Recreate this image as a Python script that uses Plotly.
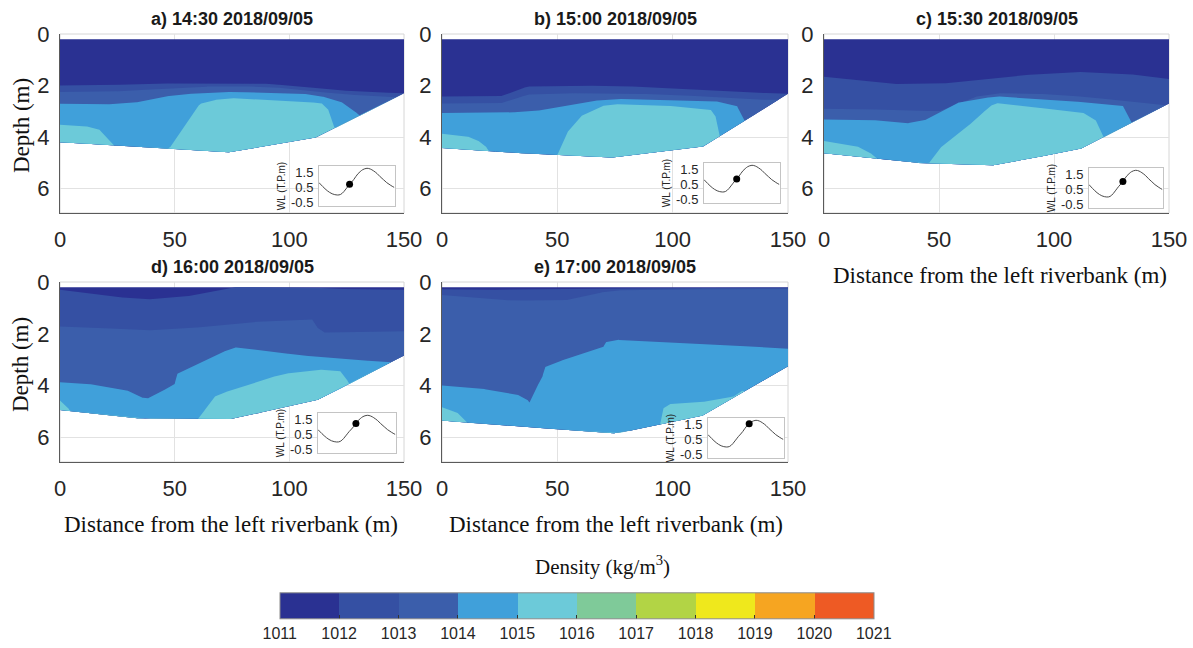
import numpy as np
import plotly.graph_objects as go

FIG_W, FIG_H = 1193, 648

# ---------------- data ----------------
density_levels = [1011, 1012, 1013, 1014, 1015, 1016, 1017, 1018, 1019, 1020, 1021]
density_colors = ["#2a3192", "#3550a3", "#3b5eab", "#40a0da", "#6ccad9",
                  "#7fca99", "#b2d445", "#efe81c", "#f6a521", "#ee5a24"]

panel_titles = ["a) 14:30 2018/09/05", "b) 15:00 2018/09/05", "c) 15:30 2018/09/05",
                "d) 16:00 2018/09/05", "e) 17:00 2018/09/05"]

water_surface_depth = 0.2  # m

x_ticks = [0, 50, 100, 150]
depth_ticks = [0, 2, 4, 6]

# ---- panel a (14:30) ----
a_bed_x = [0, 75, 112.5, 150]
a_bed_z = [4.2, 4.6, 4.0, 2.3]
a_iso1012_x = [0, 17, 32, 46, 61, 75, 90, 104, 119, 134, 150]
a_iso1012_z = [2.0, 2.0, 1.95, 1.92, 1.9, 1.9, 1.93, 2.03, 2.17, 2.25, 2.3]
a_iso1013_x = [0, 17, 32, 46, 61, 75, 90, 104, 119, 134, 150]
a_iso1013_z = [2.25, 2.25, 2.2, 2.12, 2.05, 2.02, 2.05, 2.15, 2.3, 2.4, 2.5]
a_iso1014_x = [0, 17, 32, 39, 46, 54, 61, 75, 90, 104, 113, 122, 128, 135, 150]
a_iso1014_z = [2.71, 2.75, 2.68, 2.55, 2.42, 2.34, 2.3, 2.25, 2.27, 2.3, 2.4, 2.6, 2.95, 3.6, 4.0]
a_iso1015_x = [0, 10, 17, 21, 24, 30, 40, 46, 48, 50, 54, 58, 61, 66, 74, 90, 104, 114, 117, 119, 122, 150]
a_iso1015_z = [3.52, 3.56, 3.7, 4.1, 4.4, 4.8, 4.8, 4.5, 4.4, 4.13, 3.6, 3.06, 2.72, 2.58, 2.49, 2.55, 2.62, 2.68, 2.94, 3.52, 4.0, 4.5]

# ---- panel b (15:00) ----
b_bed_x = [0, 50, 75, 113.5, 150]
b_bed_z = [4.43, 4.72, 4.8, 4.36, 2.32]
b_iso1012_x = [0, 25, 31, 37, 50, 75, 98, 119, 150]
b_iso1012_z = [2.43, 2.43, 2.25, 2.04, 2.01, 2.01, 2.1, 2.19, 2.34]
b_iso1013_x = [0, 25, 31, 37, 50, 75, 98, 119, 150]
b_iso1013_z = [2.7, 2.7, 2.55, 2.35, 2.3, 2.3, 2.35, 2.45, 2.6]
b_iso1014_x = [0, 25, 40, 50, 63, 74.5, 98, 119, 128, 130, 135, 150]
b_iso1014_z = [3.07, 3.07, 3.0, 2.84, 2.62, 2.52, 2.55, 2.62, 2.81, 3.2, 3.9, 4.5]
b_iso1015_x = [0, 10, 15, 19, 22, 35, 49, 51, 54, 60, 68.7, 74.5, 98, 116.5, 118.6, 120, 122, 150]
b_iso1015_z = [3.87, 3.95, 4.1, 4.35, 4.9, 5.0, 4.9, 4.5, 3.85, 3.2, 2.81, 2.72, 2.79, 2.94, 3.2, 3.85, 4.4, 5.0]

# ---- panel c (15:30) ----
c_bed_x = [0, 41.6, 75, 112.6, 150]
c_bed_z = [4.63, 5.01, 5.1, 4.43, 2.7]
c_iso1012_x = [0, 14, 28.5, 50, 65, 86.5, 108, 130, 150]
c_iso1012_z = [1.66, 1.79, 1.94, 1.94, 1.79, 1.6, 1.47, 1.53, 1.75]
c_iso1013_x = [0, 14, 28.5, 50, 65, 75, 86.5, 101, 115, 130, 150]
c_iso1013_z = [2.9, 2.9, 2.95, 3.0, 2.45, 2.3, 2.3, 2.35, 2.45, 2.6, 2.8]
c_iso1014_x = [0, 21, 36, 43, 50, 57.5, 65, 75, 86.5, 101, 115.5, 130, 133, 136, 150]
c_iso1014_z = [3.32, 3.34, 3.47, 3.38, 3.06, 2.68, 2.55, 2.42, 2.49, 2.55, 2.68, 2.8, 3.32, 4.0, 4.5]
c_iso1015_x = [0, 14, 20, 24, 30, 44, 45, 50, 57.5, 66, 72, 75, 86.5, 101, 112.6, 118, 120.6, 123, 150]
c_iso1015_z = [4.15, 4.34, 4.6, 4.95, 5.3, 5.3, 5.1, 4.46, 3.95, 3.32, 2.81, 2.68, 2.81, 2.93, 3.06, 3.32, 3.83, 4.4, 5.0]

# ---- panel d (16:00) ----
d_bed_x = [0, 37, 75, 113.5, 150]
d_bed_z = [4.94, 5.29, 5.29, 4.52, 2.84]
d_iso1012_x = [0, 18, 37, 54, 68, 76, 110, 120, 150]
d_iso1012_z = [0.3, 0.52, 0.68, 0.58, 0.32, 0.2, 0.2, 0.27, 0.3]
d_iso1013_x = [0, 18, 37, 54, 68.6, 83, 105, 110, 112, 115, 120, 150]
d_iso1013_z = [1.72, 1.77, 1.87, 1.81, 1.68, 1.55, 1.45, 1.45, 1.75, 1.95, 1.95, 1.9]
d_iso1014_x = [0, 10.7, 29.5, 35, 38, 42.5, 50, 51, 58.5, 65.7, 76, 90, 105, 119, 142.5, 150]
d_iso1014_z = [3.87, 3.91, 4.19, 4.45, 4.5, 4.32, 3.94, 3.55, 3.23, 2.9, 2.52, 2.65, 2.84, 2.93, 3.1, 3.1]
d_iso1015_x = [0, 3.5, 6, 40, 58, 61, 64, 67, 70, 78.7, 87.4, 97.5, 112, 122, 125, 127, 150]
d_iso1015_z = [4.58, 4.84, 5.3, 5.5, 5.5, 5.2, 4.84, 4.45, 4.32, 4.06, 3.8, 3.55, 3.38, 3.42, 3.74, 4.1, 4.5]

# ---- panel e (17:00) ----
e_bed_x = [0, 9.4, 75.5, 113, 150]
e_bed_z = [5.35, 5.42, 5.85, 5.16, 3.25]
e_iso1012_x = [0, 30, 70, 150]
e_iso1012_z = [0.28, 0.3, 0.25, 0.22]
e_iso1013_x = [0, 18, 32, 54, 65.5, 75.5, 97, 150]
e_iso1013_z = [0.5, 0.65, 0.72, 0.7, 0.45, 0.32, 0.28, 0.27]
e_iso1014_x = [0, 18, 32, 36.7, 38, 39.6, 41, 43.5, 44.5, 49.6, 61, 68, 70, 71, 75.5, 97, 126, 150]
e_iso1014_z = [4.0, 4.13, 4.32, 4.52, 4.65, 4.32, 4.06, 3.68, 3.29, 3.1, 2.77, 2.58, 2.5, 2.32, 2.23, 2.32, 2.45, 2.58]
e_iso1015_x = [0, 6.5, 9.4, 12, 90, 94, 95.7, 98.5, 111.5, 126, 130, 133, 150]
e_iso1015_z = [4.84, 5.03, 5.29, 5.6, 6.0, 5.8, 4.9, 4.71, 4.65, 4.45, 4.19, 4.3, 4.3]

# ---- water level (inset) ----
tide_hours = [7.3, 8.2, 9.25, 10.4, 11.6, 12.4, 13.15, 13.8, 14.5, 15.0, 15.5, 16.0, 16.5,
              17.0, 17.6, 18.6, 19.4, 20.1, 21.0, 21.7, 22.5, 23.25, 24.2, 25.0]
tide_wl = [0.81, 0.55, 0.28, 0.08, 0.0, 0.04, 0.22, 0.45, 0.70, 0.85, 1.02, 1.22, 1.40,
           1.53, 1.66, 1.75, 1.70, 1.59, 1.40, 1.2, 1.0, 0.81, 0.63, 0.5]
snapshot_hours = [14.5, 15.0, 15.5, 16.0, 17.0]
snapshot_wl = [0.70, 0.85, 1.02, 1.22, 1.53]
wl_ticks = [1.5, 0.5, -0.5]
wl_ticktext = ["1.5", "0.5", "-0.5"]

panels = [
    (a_bed_x, a_bed_z, [(a_iso1012_x, a_iso1012_z), (a_iso1013_x, a_iso1013_z), (a_iso1014_x, a_iso1014_z), (a_iso1015_x, a_iso1015_z)]),
    (b_bed_x, b_bed_z, [(b_iso1012_x, b_iso1012_z), (b_iso1013_x, b_iso1013_z), (b_iso1014_x, b_iso1014_z), (b_iso1015_x, b_iso1015_z)]),
    (c_bed_x, c_bed_z, [(c_iso1012_x, c_iso1012_z), (c_iso1013_x, c_iso1013_z), (c_iso1014_x, c_iso1014_z), (c_iso1015_x, c_iso1015_z)]),
    (d_bed_x, d_bed_z, [(d_iso1012_x, d_iso1012_z), (d_iso1013_x, d_iso1013_z), (d_iso1014_x, d_iso1014_z), (d_iso1015_x, d_iso1015_z)]),
    (e_bed_x, e_bed_z, [(e_iso1012_x, e_iso1012_z), (e_iso1013_x, e_iso1013_z), (e_iso1014_x, e_iso1014_z), (e_iso1015_x, e_iso1015_z)]),
]

# ---------------- layout geometry (pixels) ----------------
main_boxes = [(60, 404, 34, 213), (442, 788, 34, 213), (824, 1169, 34, 213),
              (60, 404, 282, 462), (442, 788, 282, 462)]
inset_boxes = [(319, 395, 166, 206), (704, 780, 163, 203), (1089, 1163, 168, 208),
               (318, 396, 413, 453), (708, 784, 418, 458)]
DEPTH_RANGE = [6.95, 0]

SANS = "Liberation Sans, Arial, sans-serif"
SERIF = "Liberation Serif, Times New Roman, serif"
TXT = "#262626"


def fx(px):
    return px / FIG_W


def fy(py):
    return 1 - py / FIG_H


def ax_name(n, kind):
    return kind if n == 1 else f"{kind}{n}"


render_x = np.linspace(0, 150, 751)


def band_outline(ux, uz, bx, bz):
    bed = np.interp(render_x, bx, bz)
    top = np.minimum(np.interp(render_x, ux, uz), bed)
    return (np.concatenate([render_x, render_x[::-1]]),
            np.concatenate([top, bed[::-1]]))


fig = go.Figure()
layout = {}
shapes = []
annotations = []

for i, (bx, bz, isos) in enumerate(panels):
    n = i + 1
    xa, ya = ax_name(n, "x"), ax_name(n, "y")
    uppers = [([0, 150], [water_surface_depth, water_surface_depth])] + isos
    for k, (ux, uz) in enumerate(uppers):
        px, pz = band_outline(ux, uz, bx, bz)
        fig.add_trace(go.Scatter(x=px, y=pz, xaxis=xa, yaxis=ya, mode="lines",
                                 line=dict(width=0), fill="toself",
                                 fillcolor=density_colors[k], hoverinfo="skip",
                                 showlegend=False))
    x0, x1, y0, y1 = main_boxes[i]
    layout["xaxis" if n == 1 else f"xaxis{n}"] = dict(
        domain=[fx(x0), fx(x1)], anchor=ya, range=[0, 150], tickvals=x_ticks,
        automargin=False,
        showgrid=True, gridcolor="#e2e2e2", gridwidth=1, zeroline=False,
        showline=True, linecolor="#5a5a5a", linewidth=1,
        ticks="outside", ticklen=7, tickcolor="rgba(0,0,0,0)",
        tickfont=dict(family=SANS, size=22, color=TXT))
    layout["yaxis" if n == 1 else f"yaxis{n}"] = dict(
        domain=[fy(y1), fy(y0)], anchor=xa, range=DEPTH_RANGE, tickvals=depth_ticks,
        automargin=False,
        showgrid=True, gridcolor="#e2e2e2", gridwidth=1, zeroline=False,
        showline=True, linecolor="#5a5a5a", linewidth=1,
        ticks="outside", ticklen=5, tickcolor="rgba(0,0,0,0)",
        tickfont=dict(family=SANS, size=22, color=TXT))
    shapes.append(dict(type="rect", xref=f"{xa} domain", yref=f"{ya} domain",
                       x0=0, x1=1, y0=0, y1=1, layer="below",
                       line=dict(color="#d6d6d6", width=1)))
    annotations.append(dict(text=f"<b>{panel_titles[i]}</b>", x=fx((x0 + x1) / 2),
                            y=fy(y0 - 15), xref="paper", yref="paper",
                            xanchor="center", yanchor="middle", showarrow=False,
                            font=dict(family=SANS, size=18, color="#1a1a1a")))

# insets
for i in range(5):
    n = 6 + i
    xa, ya = ax_name(n, "x"), ax_name(n, "y")
    fig.add_trace(go.Scatter(x=tide_hours, y=tide_wl, xaxis=xa, yaxis=ya, mode="lines",
                             line=dict(color="#4a4a4a", width=1, shape="spline"),
                             hoverinfo="skip", showlegend=False))
    fig.add_trace(go.Scatter(x=[snapshot_hours[i]], y=[snapshot_wl[i]], xaxis=xa, yaxis=ya,
                             mode="markers", marker=dict(color="black", size=7),
                             hoverinfo="skip", showlegend=False))
    x0, x1, y0, y1 = inset_boxes[i]
    layout[f"xaxis{n}"] = dict(domain=[fx(x0), fx(x1)], anchor=ya, range=[7.3, 25.2],
                               automargin=False,
                               showticklabels=False, showgrid=False, zeroline=False,
                               showline=True, mirror=True, linecolor="#c4c4c4",
                               linewidth=1, ticks="")
    layout[f"yaxis{n}"] = dict(domain=[fy(y1), fy(y0)], anchor=xa, range=[-0.72, 1.9],
                               automargin=False,
                               tickvals=wl_ticks, ticktext=wl_ticktext,
                               showgrid=False, zeroline=False,
                               showline=True, mirror=True, linecolor="#c4c4c4",
                               linewidth=1, ticks="outside", ticklen=2,
                               tickcolor="rgba(0,0,0,0)",
                               tickfont=dict(family=SANS, size=13, color=TXT),
                               title=dict(text="WL (T.P.m)", standoff=3,
                                          font=dict(family=SANS, size=10, color=TXT)))

# colourbar
cs = []
for k, c in enumerate(density_colors):
    cs.append([k / 10, c])
    cs.append([(k + 1) / 10, c])
fig.add_trace(go.Scatter(
    x=[None], y=[None], mode="markers", xaxis="x", yaxis="y", showlegend=False,
    hoverinfo="skip",
    marker=dict(color=[1016], colorscale=cs, cmin=density_levels[0], cmax=density_levels[-1],
                showscale=True,
                colorbar=dict(orientation="h", x=fx((280 + 873.5) / 2), xanchor="center",
                              y=fy(647), yanchor="bottom", len=(873.5 - 280) / FIG_W,
                              lenmode="fraction", thickness=26, thicknessmode="pixels",
                              xpad=0, ypad=0, outlinecolor="#8c8c8c", outlinewidth=1,
                              tickvals=density_levels, ticks="inside", ticklen=4,
                              tickcolor="#333333",
                              tickfont=dict(family=SANS, size=16, color=TXT)))))

# axis titles
annotations += [
    dict(text="Depth (m)", x=fx(22), y=fy(125), textangle=-90, font_size=23),
    dict(text="Depth (m)", x=fx(21), y=fy(365), textangle=-90, font_size=23),
    dict(text="Distance from the left riverbank (m)", x=fx(1000), y=fy(275), font_size=23),
    dict(text="Distance from the left riverbank (m)", x=fx(231), y=fy(524), font_size=23),
    dict(text="Distance from the left riverbank (m)", x=fx(616), y=fy(524), font_size=23),
    dict(text="Density (kg/m<sup>3</sup>)", x=fx(602), y=fy(565), font_size=21),
]
for a in annotations[5:]:
    a.update(xref="paper", yref="paper", xanchor="center", yanchor="middle",
             showarrow=False)
    fs = a.pop("font_size")
    a["font"] = dict(family=SERIF, size=fs, color="#111111")

layout.update(width=FIG_W, height=FIG_H, margin=dict(l=0, r=0, t=0, b=0, autoexpand=False),
              paper_bgcolor="white", plot_bgcolor="white", showlegend=False,
              shapes=shapes, annotations=annotations)
fig.update_layout(**layout)
fig.write_html("out.html")
